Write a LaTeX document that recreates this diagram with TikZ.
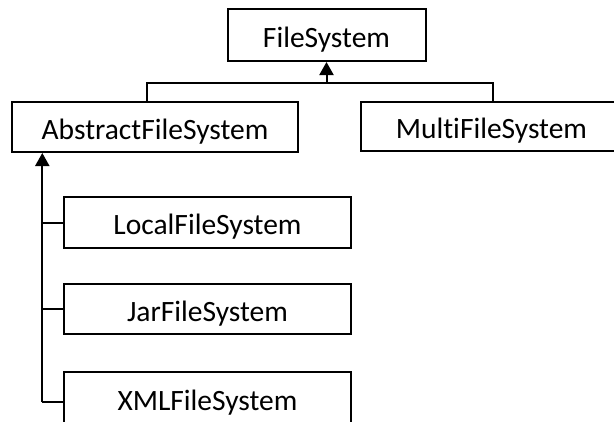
\documentclass[tikz,border=0pt]{standalone}
\usepackage{fontspec}
\setmainfont[Ligatures=NoCommon]{Carlito}
\usetikzlibrary{arrows.meta}
\begin{document}
\begin{tikzpicture}[x=1pt,y=-1pt,
  cls/.style={draw, line width=2pt, inner sep=0pt, text height=24.5pt, text depth=0pt,
    font=\fontsize{29.5}{32}\selectfont},
  link/.style={line width=2pt},
  inherit/.style={link, -{Triangle[length=13pt,width=14pt]}}]
  \useasboundingbox (0,0) rectangle (614,421);
  % class boxes (the right and bottom ones run past the page edge)
  \node[cls, minimum width=198pt, minimum height=52pt] (fs)    at (326.5,35)  {FileSystem};
  \node[cls, minimum width=286pt, minimum height=50pt] (afs)   at (155,127)   {AbstractFileSystem};
  \node[cls, minimum width=261pt, minimum height=49pt] (mfs)   at (491.5,126.5) {MultiFileSystem};
  \node[cls, minimum width=287pt, minimum height=51pt] (local) at (207.5,222.5) {LocalFileSystem};
  \node[cls, minimum width=287pt, minimum height=50pt] (jar)   at (207.5,309) {JarFileSystem};
  \node[cls, minimum width=287pt, minimum height=52pt] (xml)   at (207.5,398) {XMLFileSystem};
  % bus joining the two direct subclasses
  \coordinate (busL) at (147,83);
  \coordinate (busR) at (493,83);
  \draw[link] (afs.north -| busL) -- (busL) -- (busR) -- (mfs.north -| busR);
  \draw[inherit] (fs.south |- busL) -- (fs.south);
  % trunk of the AbstractFileSystem subclasses
  \coordinate (trunk) at (42.3,402);
  \draw[inherit] (trunk) -- (afs.south -| trunk);
  \draw[link] (local.west -| trunk) -- (local.west);
  \draw[link] (jar.west -| trunk) -- (jar.west);
  \draw[link] (trunk) -- (xml.west |- trunk);
\end{tikzpicture}
\end{document}
